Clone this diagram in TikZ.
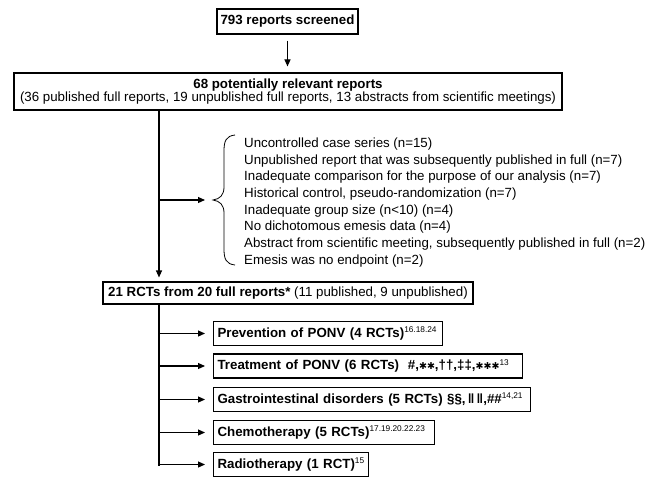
\documentclass[tikz,border=0pt]{standalone}
\usepackage{fontspec}
\setmainfont{Liberation Sans}
\newfontfamily\djv{DejaVu Sans}
\usetikzlibrary{arrows.meta}
\newcommand\supr[1]{\raisebox{4.5pt}{\fontsize{8.3}{8.3}\selectfont\mdseries #1}}
\newcommand\hstar[1]{{\djv\fontsize{9.5}{9.5}\selectfont #1}}
\begin{document}
\begin{tikzpicture}[x=1pt,y=-1pt,
  box/.style={draw=black,line width=1.1pt,inner sep=0pt,font=\fontsize{13.3}{16.7}\selectfont},
  cat/.style={box,anchor=west,minimum height=24pt,inner xsep=4pt,align=left,font=\bfseries\fontsize{13.3}{16.7}\selectfont},
  conn/.style={line width=1.1pt},
  arr/.style={conn,-{Triangle[length=7pt,width=6pt]}}
]
\useasboundingbox (0,0) rectangle (660,476);
% top boxes
\node[box,font=\bfseries\fontsize{13.3}{16}\selectfont,minimum width=141pt,minimum height=25pt] (screened) at (287.5,21.5) {793 reports screened};
\node[box,minimum width=548pt,minimum height=37pt,align=center,font=\fontsize{13.3}{13}\selectfont] (relevant) at (288,91.5)
  {\textbf{68 potentially relevant reports}\\(36 published full reports, 19 unpublished full reports, 13 abstracts from scientific meetings)};
\node[box,minimum width=370pt,minimum height=22pt] (rcts) at (288,293)
  {\textbf{21 RCTs from 20 full reports*} (11 published, 9 unpublished)};
% exclusions
\node[anchor=west,inner sep=0pt,align=left,font=\fontsize{13.3}{16.7}\selectfont] (excl) at (244,202.5)
  {Uncontrolled case series (n=15)\\
   Unpublished report that was subsequently published in full (n=7)\\
   Inadequate comparison for the purpose of our analysis (n=7)\\
   Historical control, pseudo-randomization (n=7)\\
   Inadequate group size (n<10) (n=4)\\
   No dichotomous emesis data (n=4)\\
   Abstract from scientific meeting, subsequently published in full (n=2)\\
   Emesis was no endpoint (n=2)};
\draw[line width=0.8pt] (235,135) .. controls (226,136) and (224,141) .. (224,151) -- (224,187)
  .. controls (224,195) and (220,199) .. (213,200) .. controls (220,201) and (224,205) .. (224,213)
  -- (224,249) .. controls (224,259) and (226,264) .. (235,265);
\coordinate (bracetip) at (213,200);
% categories
\node[cat,text width=221pt] (prev) at (213,333.5) {\mbox{Prevention of PONV (4 RCTs)\supr{16.18.24}}};
\node[cat,text width=301pt] (treat) at (213,366) {\mbox{Treatment of PONV (6 RCTs)~ \#,\hstar{✱✱},††,‡‡,\hstar{✱✱✱}\supr{13}}};
\node[cat,text width=309pt] (gastro) at (213,399.5) {\mbox{Gastrointestinal disorders (5 RCTs) §§,\,‖\,‖,\#\#\supr{14,21}}};
\node[cat,text width=213pt] (chemo) at (213,432.5) {\mbox{Chemotherapy (5 RCTs)\supr{17.19.20.22.23}}};
\node[cat,text width=147pt] (radio) at (213,464.5) {\mbox{Radiotherapy (1 RCT)\supr{15}}};
% connectors
\draw[arr,shorten <=6pt,shorten >=6pt] (screened.south) -- (screened.south |- relevant.north);
\coordinate (j1) at (159,200);
\draw[conn] (relevant.south -| j1) -- (j1);
\draw[arr] (j1) -- ([xshift=-8pt]bracetip);
\draw[arr,shorten >=4pt] (j1) -- (rcts.north -| j1);
\coordinate (j2) at (159,466);
\draw[conn] (rcts.south -| j2) -- (j2);
\foreach \n in {prev,treat,gastro,chemo,radio}
  \draw[arr,shorten >=8pt] (\n.west -| j2) -- (\n.west);
\end{tikzpicture}
\end{document}
